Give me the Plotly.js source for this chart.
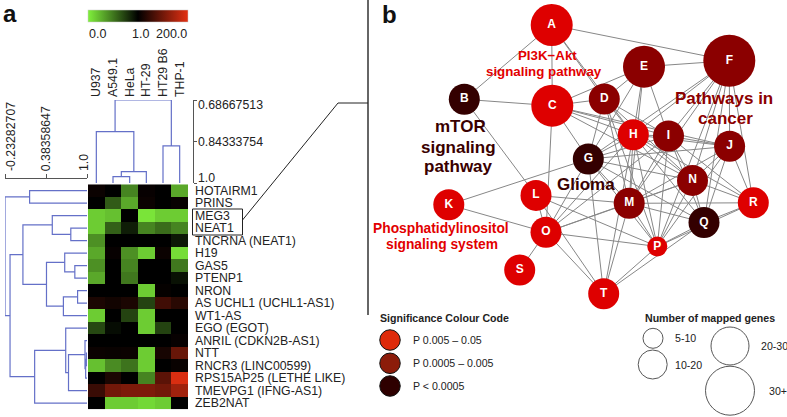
<!DOCTYPE html>
<html><head><meta charset="utf-8">
<script src="https://cdn.plot.ly/plotly-3.0.1.min.js"></script>
<style>html,body{margin:0;padding:0;background:#fff}#chart{width:787px;height:417px}</style>
</head><body><div id="chart"></div>
<script>
// ---------- panel a : heatmap data ----------
const cellLines = ['U937','A549.1','HeLa','HT-29','HT29 B6','THP-1'];
const lncRNAs = ['HOTAIRM1','PRINS','MEG3','NEAT1','TNCRNA (NEAT1)','H19','GAS5','PTENP1','NRON',
  'AS UCHL1 (UCHL1-AS1)','WT1-AS','EGO (EGOT)','ANRIL (CDKN2B-AS1)','NTT','RNCR3 (LINC00599)',
  'RPS15AP25 (LETHE LIKE)','TMEVPG1 (IFNG-AS1)','ZEB2NAT'];
// position on the colour key: 0 = "0.0" (green), 1 = "1.0" (black), 2 = "200.0" (red)
const expression = [
  [1.05,1.00,0.45,1.03,1.00,0.30],
  [1.00,0.62,0.30,1.05,1.00,1.03],
  [0.15,0.20,1.00,0.05,0.15,0.15],
  [0.15,0.60,0.88,0.45,0.55,0.45],
  [0.40,1.00,1.00,1.00,1.00,0.90],
  [0.30,1.03,0.40,0.15,1.05,0.08],
  [0.40,1.00,0.45,1.00,1.00,0.50],
  [0.30,1.00,0.50,1.00,1.00,0.93],
  [1.00,1.00,1.00,0.15,1.02,1.00],
  [1.12,1.08,1.12,0.72,1.28,1.18],
  [0.15,1.00,0.72,0.15,1.00,1.00],
  [0.70,0.95,1.00,0.15,0.72,1.00],
  [1.00,1.00,1.00,1.00,1.00,1.03],
  [1.05,1.04,1.05,0.15,1.10,1.45],
  [0.20,0.42,0.52,0.15,1.00,1.04],
  [1.00,1.12,1.00,0.45,1.40,1.95],
  [1.25,1.50,1.55,1.55,1.50,1.70],
  [1.00,0.15,0.15,0.10,0.15,1.00]
];
const keyTicks = ['0.0','1.0','200.0'];
// dendrograms: [child1, child2, merge height]; leaves are 0..n-1, merge k makes node n+k
const geneMerges = [[13,14,0.99],[18,15,0.98],[12,19,0.97],[20,16,0.722],[11,21,0.680],[22,17,0.213],
  [6,7,0.817],[5,24,0.665],[8,9,0.8585],[26,10,0.645],[25,27,0.391],[3,4,0.7565],[2,29,0.478],
  [30,28,0.0366],[31,23,-0.157],[0,1,0.137],[33,32,-0.23282707]];
const cellMerges = [[1,2,0.976],[6,3,0.957],[0,7,0.806],[4,5,0.860],[8,9,0.68667513]];
const geneScaleTicks = [-0.23282707, 0.38358647, 1.0];
const geneScaleText = ['-0.23282707','0.38358647','1.0'];
const cellScaleTicks = [0.68667513, 0.84333754, 1.0];
const cellScaleText = ['0.68667513','0.84333754','1.0'];

// ---------- panel b : network data ----------
const nodeIds = ['A','B','C','D','E','F','G','H','I','J','K','L','M','N','O','P','Q','R','S','T'];
const nodeX = [551.7,464.3,552.3,604.3,644.0,729.3,588.3,633.3,668.5,729.6,448.8,536.0,629.2,692.5,546.0,657.3,704.0,753.3,519.7,603.7];
const nodeY = [25.0,99.3,105.7,99.0,66.7,60.7,159.0,134.8,136.0,146.3,204.7,195.4,203.3,180.4,232.3,246.5,222.5,202.8,270.0,293.8];
const nodeSigClass = [0,2,0,1,1,1,2,0,1,1,0,0,1,1,0,0,2,0,0,0];
const nodeSizeClass = [2,1,2,1,2,3,1,1,1,1,1,1,1,1,1,0,1,1,1,1];
const edges = ['A-B','A-C','A-F','A-D','A-H','B-C','B-L',
  'C-D','C-E','C-G','C-H','C-I','C-J','C-N','C-O',
  'D-E','D-G','D-H','D-I','D-M','D-N','D-P',
  'E-F','E-G','E-H','E-I','E-M',
  'F-G','F-H','F-I','F-J','F-N','F-P','F-Q','F-R','F-M',
  'G-H','G-I','G-J','G-K','G-M','G-N','G-O','G-P','G-T','G-Q',
  'H-I','H-J','H-M','H-N','H-O','H-P','H-Q','H-T','H-R',
  'I-J','I-M','I-N','I-O','I-P','I-Q','I-R',
  'J-N','J-P','J-Q','J-R','J-M','K-O',
  'L-M','L-O','L-P','L-T',
  'M-N','M-O','M-P','M-R','M-T','M-Q',
  'N-P','N-Q','N-R','O-P','O-S','O-T','O-N',
  'P-Q','P-R','P-T','Q-R','Q-T'];
const sigLabels = ['P 0.005 \u2013 0.05','P 0.0005 \u2013 0.005','P < 0.0005'];
const sizeLabels = ['5-10','10-20','20-30','30+'];

// ---------- styles ----------
const W = 787, H = 417;
const FONT = 'Liberation Sans, Arial, sans-serif';
const keyColors = [[0,'rgb(128,240,60)'],[0.5,'rgb(0,0,0)'],[1,'rgb(228,48,18)']];
const dendroColor = 'rgb(100,112,200)';
const nodeColors = ['rgb(222,0,0)','rgb(139,0,0)','rgb(52,0,0)'];
const legendColors = ['rgb(222,42,10)','rgb(140,28,10)','rgb(46,0,0)'];
const nodeDiam = [20,31,42,52];
const legendDiam = [20,29,38,49];
const px = v => v / W, py = v => 1 - v / H;

function dendroLines(merges, n, leafH) {
  const pos = [], hgt = [], a = [], b = [];
  for (let i = 0; i < n; i++) { pos[i] = i; hgt[i] = leafH; }
  merges.forEach((m, k) => {
    const [l, r, h] = m, id = n + k;
    pos[id] = (pos[l] + pos[r]) / 2; hgt[id] = h;
    a.push(pos[l], pos[l], pos[r], pos[r], null);
    b.push(hgt[l], h, h, hgt[r], null);
  });
  return {a, b};
}
const rowD = dendroLines(geneMerges, lncRNAs.length, 1.0);
const colD = dendroLines(cellMerges, cellLines.length, 1.0);
const colIdx = cellLines.map((_, i) => i), rowIdx = lncRNAs.map((_, i) => i);

const ex = [], ey = [];
edges.forEach(e => {
  const [s, t] = e.split('-').map(id => nodeIds.indexOf(id));
  ex.push(nodeX[s], nodeX[t], null); ey.push(nodeY[s], nodeY[t], null);
});

const traces = [
  {type:'heatmap', z: expression, x: colIdx, y: rowIdx, xaxis:'x', yaxis:'y',
   zmin:0, zmax:2, colorscale: keyColors, hoverinfo:'skip',
   colorbar:{orientation:'h', x:px(88), xanchor:'left', y:py(10), yanchor:'top',
     len:100, lenmode:'pixels', thickness:12, thicknessmode:'pixels', xpad:0, ypad:0,
     outlinewidth:0.5, outlinecolor:'#ccc', showticklabels:false, ticks:''}},
  {type:'scatter', mode:'lines', x: rowD.b, y: rowD.a, xaxis:'x3', yaxis:'y',
   line:{color:dendroColor, width:1.2}, hoverinfo:'skip', cliponaxis:false},
  {type:'scatter', mode:'lines', x: colD.a, y: colD.b, xaxis:'x', yaxis:'y2',
   line:{color:dendroColor, width:1.2}, hoverinfo:'skip', cliponaxis:false},
  {type:'scatter', mode:'lines', x: ex, y: ey, xaxis:'x4', yaxis:'y4',
   line:{color:'rgb(135,135,135)', width:1}, hoverinfo:'skip', cliponaxis:false},
  {type:'scatter', mode:'markers+text', x: nodeX, y: nodeY, text: nodeIds, xaxis:'x4', yaxis:'y4',
   textposition:'middle center', textfont:{family:FONT, size:12, color:'#fff', weight:'bold'},
   marker:{size: nodeSizeClass.map(c => nodeDiam[c]), color: nodeSigClass.map(c => nodeColors[c]), line:{width:0}, opacity:1},
   hoverinfo:'skip', cliponaxis:false},
  {type:'scatter', mode:'markers', x: sigLabels.map(() => 390), y: [340, 363.3, 386], xaxis:'x4', yaxis:'y4',
   marker:{size:20.5, color: legendColors, line:{width:1, color:'#111'}}, hoverinfo:'skip', cliponaxis:false},
  {type:'scatter', mode:'markers', x: [653, 652.7, 730, 730], y: [338.3, 364.5, 346, 390.7], xaxis:'x4', yaxis:'y4',
   marker:{size: legendDiam, color:'rgba(255,255,255,0)', line:{width:1, color:'#111'}}, hoverinfo:'skip', cliponaxis:false}
];

const ann = [];
function txt(t, x, y, o) {
  ann.push(Object.assign({text:t, x, y, xref:'x4', yref:'y4', showarrow:false, xanchor:'left', yanchor:'middle',
    font:{family:FONT, size:12, color:'#222'}}, o || {}));
}
txt('a', 1, 13, {font:{family:FONT, size:24, color:'#111', weight:'bold'}});
txt('b', 380, 14, {font:{family:FONT, size:24, color:'#111', weight:'bold'}});
txt(keyTicks[0], 87, 33.5, {font:{family:FONT, size:12.5, color:'#222'}});
txt(keyTicks[1], 151, 33.5, {xanchor:'right', font:{family:FONT, size:12.5, color:'#222'}});
txt(keyTicks[2], 189, 33.5, {xanchor:'right', font:{family:FONT, size:12.5, color:'#222'}});
// labels of the two dendrogram scales (placed beside their brackets as in the original)
cellScaleText.forEach((s, i) => txt(s, 196, [105, 141.5, 178][i], {font:{family:FONT, size:12.3, color:'#222'}}));
geneScaleText.forEach((s, i) => txt(s, [10.5, 45.7, 83.5][i], 173, {xanchor:'center', yanchor:'bottom', textangle:-90,
  font:{family:FONT, size:12.3, color:'#222'}}));
const netText = [
  ['PI3K\u2212Akt', 547.5, 55, 13.3, 'rgb(226,0,0)'],
  ['signaling pathway', 543.7, 71, 13.3, 'rgb(226,0,0)'],
  ['Pathways in', 723.8, 98.3, 17, 'rgb(140,0,0)'],
  ['cancer', 725, 118.3, 17, 'rgb(140,0,0)'],
  ['mTOR', 460, 126.7, 17, 'rgb(58,0,0)'],
  ['signaling', 458, 147.2, 17, 'rgb(58,0,0)'],
  ['pathway', 458.3, 166.7, 17, 'rgb(58,0,0)'],
  ['Glioma', 586.2, 184.3, 17, 'rgb(58,0,0)'],
  ['Phosphatidylinositol', 441.3, 228.3, 13.8, 'rgb(226,0,0)'],
  ['signaling system', 442, 244, 13.8, 'rgb(226,0,0)']
];
netText.forEach(r => txt(r[0], r[1], r[2], {xanchor:'center', font:{family:FONT, size:r[3], color:r[4], weight:'bold'}}));
txt('Significance Colour Code', 377.5, 317.7, {font:{family:FONT, size:10.6, color:'#222', weight:'bold'}});
sigLabels.forEach((s, i) => txt(s, 410.5, [340, 363.3, 386][i], {font:{family:FONT, size:10.6, color:'#222'}}));
txt('Number of mapped genes', 642.5, 318.3, {font:{family:FONT, size:10.6, color:'#222', weight:'bold'}});
sizeLabels.forEach((s, i) => txt(s, [673.3, 673.3, 759, 766.5][i], [338.3, 364.5, 346, 390.7][i], {font:{family:FONT, size:10.6, color:'#222'}}));

const shapes = [
  {type:'line', xref:'x4', yref:'y4', x0:368, x1:368, y0:0, y1:315, line:{color:'#333', width:1.5}},
  {type:'rect', xref:'x4', yref:'y4', x0:192.5, x1:242.5, y0:209, y1:235, line:{color:'#222', width:1}},
  {type:'line', xref:'x4', yref:'y4', x0:242.5, y0:220, x1:338, y1:103, line:{color:'#222', width:1}},
  {type:'line', xref:'x4', yref:'y4', x0:338, y0:103, x1:368, y1:103, line:{color:'#222', width:1}}
];

const tf = {family:FONT, size:12.3, color:'#222'};
const layout = {
  width:W, height:H, margin:{l:0,r:0,t:0,b:0}, paper_bgcolor:'#fff', plot_bgcolor:'rgba(0,0,0,0)',
  showlegend:false, font:{family:FONT},
  xaxis:{domain:[px(88), px(188)], range:[-0.5,5.5], anchor:'free', position:py(97), side:'top',
    tickvals: colIdx, ticktext: cellLines, tickangle:-90, ticks:'', showgrid:false, zeroline:false,
    showline:false, tickfont: tf, fixedrange:true},
  yaxis:{domain:[py(409.3), py(184.3)], range:[17.5,-0.5], anchor:'x', side:'right',
    tickvals: rowIdx, ticktext: lncRNAs, ticks:'', showgrid:false, zeroline:false, showline:false,
    ticklabelstandoff:6, tickfont: tf, fixedrange:true},
  yaxis2:{domain:[py(183), py(100)], range:[1.0, 0.68667513], anchor:'free', position:px(193), side:'right',
    showline:true, linecolor:'#555', linewidth:1, ticks:'outside', ticklen:3, tickcolor:'#555',
    tickvals: cellScaleTicks, showticklabels:false, showgrid:false, zeroline:false, fixedrange:true},
  xaxis3:{domain:[px(5), px(87)], range:[-0.23282707, 1.0], anchor:'free', position:py(178), side:'top',
    showline:true, linecolor:'#555', linewidth:1, ticks:'outside', ticklen:4, tickcolor:'#555',
    tickvals: geneScaleTicks, showticklabels:false, showgrid:false, zeroline:false, fixedrange:true},
  xaxis4:{domain:[0,1], range:[0,W], anchor:'y4', visible:false, fixedrange:true},
  yaxis4:{domain:[0,1], range:[H,0], anchor:'x4', visible:false, fixedrange:true},
  annotations: ann, shapes: shapes
};
Plotly.newPlot('chart', traces, layout, {displayModeBar:false, staticPlot:true});
</script></body></html>
